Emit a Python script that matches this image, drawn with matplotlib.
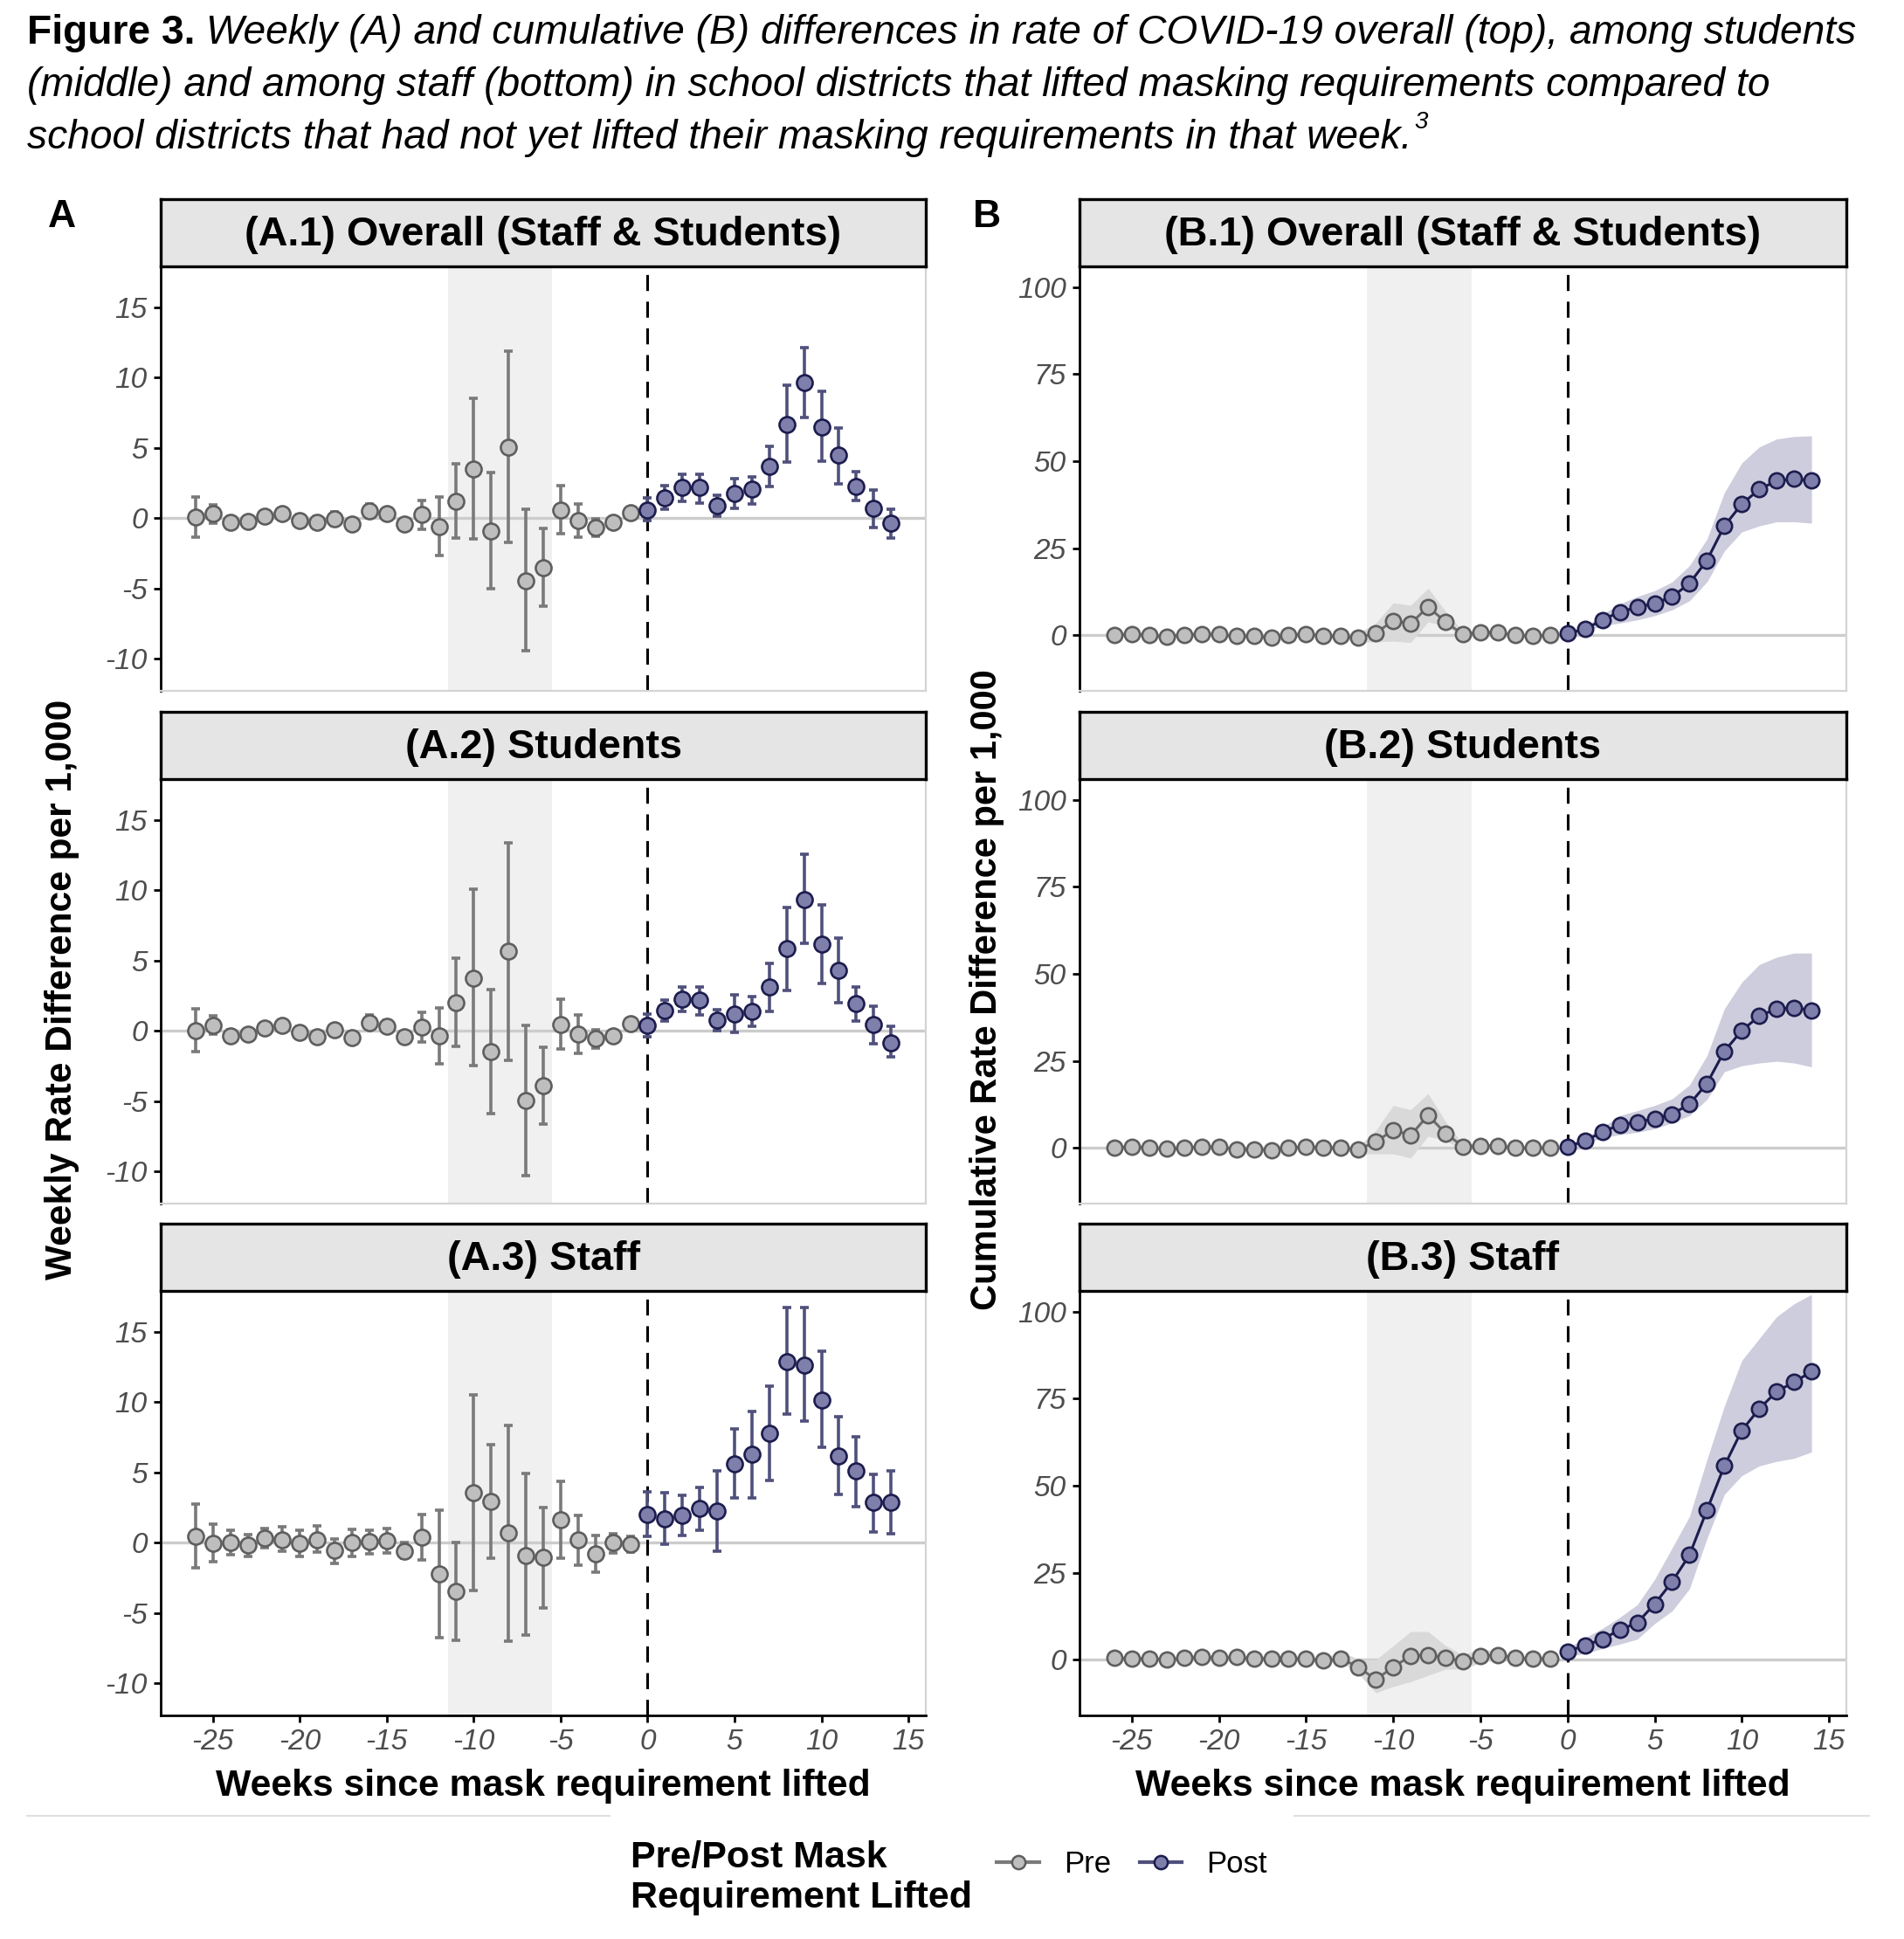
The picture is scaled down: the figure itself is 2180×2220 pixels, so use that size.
import numpy as np
import matplotlib
matplotlib.use('Agg')
import matplotlib.pyplot as plt
from matplotlib.lines import Line2D

plt.rcParams['font.family'] = ['Liberation Sans', 'DejaVu Sans']
plt.rcParams['axes.unicode_minus'] = False

#____________________________________________________________________#
#data
weeks_pre = list(range(-26, 0))
weeks_post = list(range(0, 15))

#(A.1) weekly overall
a1_pre_est = [0.04, 0.3, -0.33, -0.23, 0.15, 0.31, -0.17, -0.33, -0.06, -0.44, 0.5, 0.31, -0.44,
              0.23, -0.63, 1.19, 3.49, -0.92, 5.01, -4.45, -3.53, 0.56, -0.21, -0.65, -0.33, 0.35]
a1_pre_lo = [-1.36, -0.38, -0.75, -0.55, -0.12, 0.0, -0.6, -0.75, -0.55, -0.75, 0.0, -0.1, -0.7,
             -0.8, -2.67, -1.42, -1.46, -5.0, -1.75, -9.42, -6.26, -1.1, -1.38, -1.3, -0.55, 0.15]
a1_pre_hi = [1.5, 0.96, 0.1, 0.07, 0.42, 0.65, 0.25, 0.1, 0.45, -0.15, 1.0, 0.7, -0.15,
             1.27, 1.5, 3.84, 8.5, 3.26, 11.88, 0.6, -0.73, 2.32, 0.98, -0.08, -0.1, 0.55]
a1_post_est = [0.56, 1.44, 2.17, 2.15, 0.88, 1.75, 2.03, 3.7, 6.68, 9.65, 6.49, 4.45, 2.25, 0.71, -0.4]
a1_post_lo = [-0.17, 0.6, 1.19, 1.09, 0.13, 0.71, 1.02, 2.23, 3.95, 7.14, 4.05, 2.44, 1.23, -0.69, -1.42]
a1_post_hi = [1.42, 2.28, 3.11, 3.13, 1.65, 2.8, 2.94, 5.11, 9.48, 12.1, 9.02, 6.39, 3.3, 2.0, 0.63]

#(A.2) weekly students
a2_pre_est = [0.0, 0.38, -0.38, -0.25, 0.21, 0.4, -0.13, -0.46, 0.06, -0.5, 0.59, 0.33, -0.42,
              0.25, -0.38, 1.97, 3.72, -1.49, 5.65, -4.98, -3.93, 0.46, -0.25, -0.56, -0.36, 0.48]
a2_pre_lo = [-1.5, -0.27, -0.8, -0.55, -0.05, 0.1, -0.55, -0.85, -0.35, -0.8, 0.1, -0.05, -0.72,
             -0.8, -2.36, -1.13, -2.47, -5.92, -2.13, -10.31, -6.65, -1.28, -1.61, -1.21, -0.6, 0.3]
a2_pre_hi = [1.55, 1.05, 0.05, 0.05, 0.46, 0.7, 0.3, -0.05, 0.45, -0.2, 1.1, 0.72, -0.12,
             1.3, 1.63, 5.17, 10.04, 2.93, 13.39, 0.4, -1.15, 2.22, 1.13, 0.04, -0.1, 0.65]
a2_post_est = [0.38, 1.42, 2.22, 2.15, 0.73, 1.21, 1.36, 3.1, 5.86, 9.35, 6.13, 4.29, 1.9, 0.42, -0.84]
a2_post_lo = [-0.42, 0.67, 1.36, 1.15, 0.0, -0.13, 0.31, 1.38, 2.89, 6.21, 3.35, 1.97, 0.71, -0.9, -1.84]
a2_post_hi = [1.21, 2.18, 3.08, 3.14, 1.51, 2.55, 2.41, 4.81, 8.79, 12.55, 8.95, 6.57, 3.1, 1.74, 0.31]

#(A.3) weekly staff
a3_pre_est = [0.45, -0.07, 0.0, -0.2, 0.34, 0.22, -0.07, 0.22, -0.58, 0.0, 0.04, 0.11, -0.6,
              0.38, -2.26, -3.49, 3.52, 2.91, 0.67, -0.92, -1.08, 1.61, 0.16, -0.78, -0.02, -0.11]
a3_pre_lo = [-1.79, -1.39, -0.85, -0.96, -0.4, -0.63, -1.0, -0.69, -1.46, -0.96, -0.78, -0.74, -1.12,
             -1.25, -6.79, -6.94, -3.43, -1.14, -7.01, -6.56, -4.66, -1.14, -1.63, -2.08, -0.74, -0.65]
a3_pre_hi = [2.75, 1.28, 0.87, 0.58, 1.0, 1.1, 0.87, 1.19, 0.27, 0.92, 0.87, 1.0, -0.02,
             2.0, 2.33, 0.0, 10.5, 6.94, 8.33, 4.93, 2.51, 4.37, 1.95, 0.49, 0.65, 0.43]
a3_post_est = [1.99, 1.68, 1.95, 2.4, 2.22, 5.6, 6.29, 7.77, 12.88, 12.63, 10.12, 6.14, 5.08, 2.84, 2.84]
a3_post_lo = [0.45, -0.13, 0.49, 0.87, -0.63, 3.18, 3.18, 4.41, 9.16, 8.62, 6.76, 3.4, 2.55, 0.78, 0.65]
a3_post_hi = [3.6, 3.52, 3.34, 3.9, 5.13, 8.06, 9.34, 11.13, 16.73, 16.73, 13.59, 8.94, 7.55, 4.86, 5.08]

#(B.1) cumulative overall
b1_pre_est = [0, 0.4, 0, -0.4, 0, 0.4, 0.2, -0.3, -0.3, -0.7, 0, 0.4, -0.3,
              -0.3, -0.7, 0.6, 4.2, 3.3, 8.2, 3.8, 0.2, 0.8, 0.8, 0, -0.3, 0]
b1_pre_lo = [-0.5, -0.2, -0.5, -0.9, -0.5, -0.2, -0.4, -0.9, -0.9, -1.3, -0.6, -0.2, -0.9,
             -1.0, -2.0, -1.9, -1.7, -2.1, 3.8, 2.7, -0.3, 0.2, 0.2, -0.5, -0.7, -0.4]
b1_pre_hi = [0.5, 0.9, 0.5, 0.1, 0.5, 0.9, 0.7, 0.2, 0.2, -0.2, 0.6, 0.9, 0.3,
             0.4, 0.6, 3.5, 9.3, 8.6, 13.5, 6.9, 1.0, 1.4, 1.3, 0.5, 0.2, 0.4]
b1_post_est = [0.6, 1.7, 4.4, 6.7, 8.0, 9.2, 11.0, 14.9, 21.5, 31.4, 37.7, 41.9, 44.4, 44.9, 44.4]
b1_post_lo = [0.0, 1.2, 2.7, 3.5, 4.4, 5.6, 7.3, 9.9, 15.3, 24.2, 29.7, 31.4, 32.6, 32.6, 32.2]
b1_post_hi = [1.2, 2.3, 6.0, 9.0, 11.1, 12.8, 15.3, 20.0, 27.6, 41.0, 49.5, 54.1, 56.4, 57.1, 57.3]

#(B.2) cumulative students
b2_pre_est = [0, 0.4, 0, -0.3, 0, 0.4, 0.2, -0.4, -0.4, -0.7, 0, 0.4, 0,
              0, -0.4, 1.7, 5.2, 3.6, 9.4, 4.2, 0.4, 0.6, 0.6, 0, 0, 0]
b2_pre_lo = [-0.5, -0.1, -0.5, -0.8, -0.5, -0.1, -0.3, -0.9, -0.9, -1.2, -0.5, -0.1, -0.5,
             -0.6, -1.7, -1.7, -1.7, -2.9, 3.4, 2.1, -0.6, 0.1, 0.1, -0.5, -0.5, -0.5]
b2_pre_hi = [0.5, 0.9, 0.5, 0.2, 0.5, 0.9, 0.7, 0.1, 0.1, -0.2, 0.5, 0.9, 0.5,
             0.6, 0.4, 5.0, 12.2, 11.0, 15.6, 7.6, 1.1, 1.1, 1.1, 0.5, 0.5, 0.5]
b2_post_est = [0.25, 2.1, 4.5, 6.7, 7.4, 8.4, 9.7, 12.6, 18.5, 27.8, 33.7, 37.9, 40.0, 40.3, 39.6]
b2_post_lo = [-0.3, 1.3, 2.9, 3.8, 4.5, 5.5, 7.2, 9.3, 13.9, 21.9, 23.6, 24.4, 24.9, 24.4, 23.3]
b2_post_hi = [0.8, 2.9, 5.9, 9.3, 10.7, 12.2, 14.1, 18.1, 26.5, 40.0, 47.6, 52.7, 54.8, 56.0, 56.0]

#(B.3) cumulative staff
b3_pre_est = [0.45, 0.3, 0.3, 0, 0.45, 0.7, 0.45, 0.7, 0.3, 0.3, 0.3, 0.3, -0.3,
              0.3, -2.1, -5.7, -2.1, 1.1, 1.4, 0.6, -0.45, 1.1, 1.4, 0.45, 0.3, 0.3]
b3_pre_lo = [-0.2, -0.3, -0.3, -0.6, -0.2, 0.0, -0.2, 0.0, -0.4, -0.4, -0.4, -0.4, -1.0,
             -0.5, -4.0, -9.5, -7.7, -6.3, -4.5, -2.7, -2.7, -0.9, 0.5, -0.2, -0.3, -0.3]
b3_pre_hi = [1.1, 0.9, 0.9, 0.6, 1.1, 1.4, 1.1, 1.4, 1.0, 1.0, 1.0, 1.0, 0.4,
             2.3, 0.2, 0.0, 4.0, 8.1, 8.1, 4.1, 1.4, 3.2, 2.3, 1.1, 0.9, 0.9]
b3_post_est = [2.4, 4.1, 5.9, 8.6, 10.6, 16.0, 22.4, 30.1, 43.0, 55.7, 65.9, 72.1, 77.1, 79.8, 82.8]
b3_post_lo = [0.9, 1.8, 3.2, 4.5, 5.9, 10.4, 14.0, 20.4, 34.8, 47.5, 52.9, 55.7, 57.0, 57.9, 59.7]
b3_post_hi = [3.2, 6.3, 9.0, 12.2, 15.8, 23.1, 32.1, 41.2, 57.5, 72.9, 86.0, 92.3, 98.6, 102.3, 105.0]

strip_a = ['(A.1) Overall (Staff & Students)', '(A.2) Students', '(A.3) Staff']
strip_b = ['(B.1) Overall (Staff & Students)', '(B.2) Students', '(B.3) Staff']
x_ticks = [-25, -20, -15, -10, -5, 0, 5, 10, 15]
a_yticks = [-10, -5, 0, 5, 10, 15]
b_yticks = [0, 25, 50, 75, 100]

#colours
PRE_FILL = '#BEBEBE'
PRE_EDGE = '#5E5E5E'
PRE_LINE = '#7A7A7A'
POST_FILL = '#7F7FAB'
POST_EDGE = '#1C1C4E'
POST_LINE = '#50507C'
TICK_COL = '#4D4D4D'

#____________________________________________________________________#
W, H = 2180, 2220
fig = plt.figure(figsize=(W / 100, H / 100), dpi=100)


def px_axes(x0, y0, x1, y1):
    """axes from pixel box (top-left origin)"""
    return fig.add_axes([x0 / W, 1 - y1 / H, (x1 - x0) / W, (y1 - y0) / H])


def style_panel(ax, ylim, yticks, bottom):
    ax.set_xlim(-28, 16)
    ax.set_ylim(*ylim)
    ax.axvspan(-11.5, -5.5, color='#F0F0F0', zorder=0, lw=0)
    ax.axhline(0, color='#CCCCCC', lw=2.4, zorder=1)
    ax.axvline(0, color='black', lw=2.2, ls=(0, (6, 4)), zorder=2)
    for s in ['top', 'right', 'bottom']:
        ax.spines[s].set_color('#D4D4D4')
        ax.spines[s].set_linewidth(1.6)
    ax.spines['left'].set_color('black')
    ax.spines['left'].set_linewidth(2.0)
    ax.set_yticks(yticks)
    ax.tick_params(axis='y', length=6, width=2, color='black', labelsize=24,
                   labelcolor=TICK_COL, pad=5)
    for lab in ax.get_yticklabels():
        lab.set_style('italic')
    if bottom:
        ax.spines['bottom'].set_color('black')
        ax.spines['bottom'].set_linewidth(2.0)
        ax.set_xticks(x_ticks)
        ax.tick_params(axis='x', length=6, width=2, color='black', labelsize=24,
                       labelcolor=TICK_COL, pad=5)
        for lab in ax.get_xticklabels():
            lab.set_style('italic')
    else:
        ax.set_xticks([])


def strip(x0, y0, x1, y1, text):
    sa = px_axes(x0, y0, x1, y1)
    sa.set_facecolor('#E5E5E5')
    sa.set_xticks([])
    sa.set_yticks([])
    for s in sa.spines.values():
        s.set_color('black')
        s.set_linewidth(2.4)
    sa.text(0.5, 0.47, text, ha='center', va='center', fontsize=33.7,
            weight='bold', transform=sa.transAxes)


def weekly(ax, est, lo, hi, x, fill, edge, line):
    est = np.array(est)
    err = [est - np.array(lo), np.array(hi) - est]
    ax.errorbar(x, est, yerr=err, fmt='none', ecolor=line, elinewidth=2.6,
                capsize=3.8, capthick=2.6, zorder=3)
    ax.plot(x, est, 'o', ms=13, mfc=fill, mec=edge, mew=1.9, zorder=4)


def cumulative(ax, est, lo, hi, x, fill, edge, line, band):
    ax.fill_between(x, lo, hi, color=band, lw=0, zorder=2)
    ax.plot(x, est, '-', color=line, lw=2.2, zorder=3)
    ax.plot(x, est, 'o', ms=12.5, mfc=fill, mec=edge, mew=1.9, zorder=4)


rows = [(228, 305, 791), (815, 892, 1378), (1401, 1478, 1964)]
ax_a_x = (184, 1060)
ax_b_x = (1236, 2114)

a_data = [(a1_pre_est, a1_pre_lo, a1_pre_hi, a1_post_est, a1_post_lo, a1_post_hi),
          (a2_pre_est, a2_pre_lo, a2_pre_hi, a2_post_est, a2_post_lo, a2_post_hi),
          (a3_pre_est, a3_pre_lo, a3_pre_hi, a3_post_est, a3_post_lo, a3_post_hi)]
b_data = [(b1_pre_est, b1_pre_lo, b1_pre_hi, b1_post_est, b1_post_lo, b1_post_hi),
          (b2_pre_est, b2_pre_lo, b2_pre_hi, b2_post_est, b2_post_lo, b2_post_hi),
          (b3_pre_est, b3_pre_lo, b3_pre_hi, b3_post_est, b3_post_lo, b3_post_hi)]

for i, (st, top, bot) in enumerate(rows):
    #weekly panels
    ax = px_axes(ax_a_x[0], top, ax_a_x[1], bot)
    style_panel(ax, (-12.3, 17.9), a_yticks, i == 2)
    d = a_data[i]
    weekly(ax, d[0], d[1], d[2], weeks_pre, PRE_FILL, PRE_EDGE, PRE_LINE)
    weekly(ax, d[3], d[4], d[5], weeks_post, POST_FILL, POST_EDGE, POST_LINE)
    strip(ax_a_x[0], st, ax_a_x[1], top, strip_a[i])

    #cumulative panels
    ax = px_axes(ax_b_x[0], top, ax_b_x[1], bot)
    style_panel(ax, (-16, 106), b_yticks, i == 2)
    d = b_data[i]
    cumulative(ax, d[0], d[1], d[2], weeks_pre, PRE_FILL, PRE_EDGE, '#6E6E6E', '#D9D9D9')
    cumulative(ax, d[3], d[4], d[5], weeks_post, POST_FILL, POST_EDGE, POST_EDGE, '#CDCDDD')
    strip(ax_b_x[0], st, ax_b_x[1], top, strip_b[i])

#panel letters and axis titles
fig.text(71 / W, 1 - 249 / H, 'A', fontsize=32, weight='bold', ha='center', va='center')
fig.text(1130 / W, 1 - 249 / H, 'B', fontsize=32, weight='bold', ha='center', va='center')
fig.text(71 / W, 1 - 1133 / H, 'Weekly Rate Difference per 1,000', rotation=90,
         fontsize=30.5, weight='bold', ha='center', va='center')
fig.text(1130 / W, 1 - 1133 / H, 'Cumulative Rate Difference per 1,000', rotation=90,
         fontsize=30, weight='bold', ha='center', va='center')
fig.text(sum(ax_a_x) / 2 / W, 1 - 2045 / H, 'Weeks since mask requirement lifted',
         fontsize=30.8, weight='bold', ha='center', va='center')
fig.text(sum(ax_b_x) / 2 / W, 1 - 2045 / H, 'Weeks since mask requirement lifted',
         fontsize=30.8, weight='bold', ha='center', va='center')

#title, bold lead-in then italic
r = fig.canvas.get_renderer()
title_lines = [' Weekly (A) and cumulative (B) differences in rate of COVID-19 overall (top), among students',
               '(middle) and among staff (bottom) in school districts that lifted masking requirements compared to',
               'school districts that had not yet lifted their masking requirements in that week.']
tfs = 33.2
t0 = fig.text(31 / W, 1 - 38 / H, 'Figure 3.', fontsize=tfs, weight='bold', va='center')
bb = t0.get_window_extent(r)
fig.text(bb.x1 / W, 1 - 38 / H, title_lines[0], fontsize=tfs, style='italic', va='center')
fig.text(31 / W, 1 - 98 / H, title_lines[1], fontsize=tfs, style='italic', va='center')
t3 = fig.text(31 / W, 1 - 158 / H, title_lines[2], fontsize=tfs, style='italic', va='center')
bb = t3.get_window_extent(r)
fig.text((bb.x1 + 3) / W, 1 - 140 / H, '3', fontsize=20, style='italic', va='center')

#legend at the bottom
fig.add_artist(Line2D([31 / W, 698 / W], [1 - 2079 / H] * 2, color='#E0E0E0', lw=1.5))
fig.add_artist(Line2D([1482 / W, 2140 / W], [1 - 2079 / H] * 2, color='#E0E0E0', lw=1.5))
fig.text(722 / W, 1 - 2150 / H, 'Pre/Post Mask\nRequirement Lifted', fontsize=31,
         weight='bold', ha='left', va='center', linespacing=1.2)
handles = [Line2D([], [], color=PRE_LINE, lw=3, marker='o', ms=11, mfc=PRE_FILL, mec=PRE_EDGE, mew=1.8),
           Line2D([], [], color=POST_LINE, lw=3, marker='o', ms=11, mfc=POST_FILL, mec=POST_EDGE, mew=1.8)]
fig.legend(handles, ['Pre', 'Post'], ncol=2, loc='center left',
           bbox_to_anchor=(1110 / W, 1 - 2135 / H), frameon=False, fontsize=25,
           handlelength=1.4, columnspacing=0.95, handletextpad=0.8)

fig.savefig('out.png', dpi=100)
